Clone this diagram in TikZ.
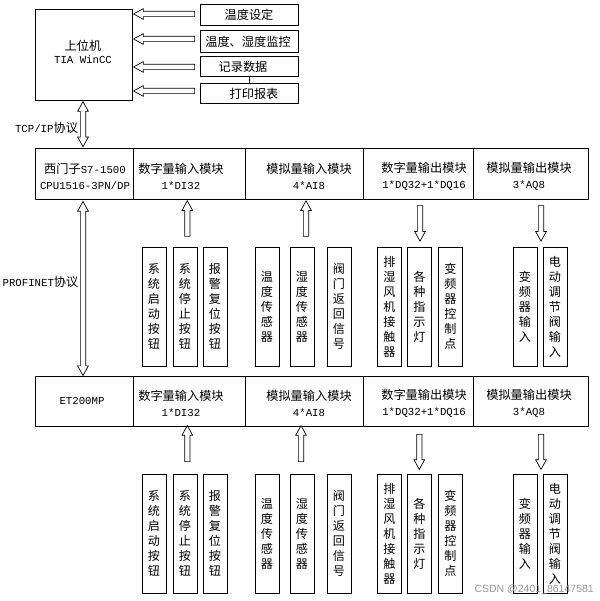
\documentclass[tikz,border=0pt]{standalone}
\usepackage{fontspec}
\setmainfont{Liberation Mono}
\newfontfamily\cjkfont[Scale=1.14]{Noto Sans CJK SC}
\newfontfamily\wmfont{Liberation Sans}
\newcommand{\zh}[1]{{\cjkfont #1}}
\usetikzlibrary{shapes.arrows}
\begin{document}
\begin{tikzpicture}[x=1pt,y=-1pt,
  font=\fontsize{10.7}{13}\selectfont,
  box/.style={draw, line width=0.8pt, inner sep=0pt},
  cell/.style={draw, line width=1pt, inner sep=0pt},
  txt/.style={inner sep=0pt, align=center},
  col/.style={draw, line width=0.8pt, minimum width=24pt, minimum height=119pt,
    inner sep=0pt, align=center, font=\cjkfont\fontsize{10.6}{15}\selectfont},
  harrow/.style={single arrow, draw, line width=0.7pt, inner sep=2.3pt,
    minimum width=10pt, single arrow head extend=2.7pt,
    single arrow tip angle=58, single arrow head indent=0pt},
  darrow/.style={double arrow, draw, line width=0.7pt, inner sep=2.3pt,
    minimum width=10pt, double arrow head extend=2.7pt,
    double arrow tip angle=58, double arrow head indent=0pt, shape border rotate=90},
  upa/.style={harrow, shape border rotate=90},
  downa/.style={harrow, shape border rotate=270},
  lefta/.style={harrow, shape border rotate=180}
]
\useasboundingbox (0,0) rectangle (599,601);

% upper computer
\node[box, minimum width=97pt, minimum height=91pt] (pc) at (83.5,54.5) {};
\node[txt, font=\fontsize{10.7}{13}\selectfont] (pct) at (83,51.5) {\zh{上位机}\\TIA WinCC};

% right boxes
\node[box, minimum width=98pt, minimum height=21pt] (b1) at (249,14.5) {};
\node[txt] (b1t) at (249,14.5) {\zh{温度设定}};
\node[box, minimum width=98pt, minimum height=22pt] (b2) at (249,41) {};
\node[txt] (b2t) at (248,41.5) {\zh{温度、湿度监控}};
\node[box, minimum width=98pt, minimum height=20pt] (b3) at (249,66) {};
\node[txt] (b3t) at (243,66.5) {\zh{记录数据}};
\node[box, minimum width=98pt, minimum height=20pt] (b4) at (249,93) {};
\node[txt] (b4t) at (254,94) {\zh{打印报表}};
\draw[line width=0.8pt] (b3.south) -- (b4.north);

% left arrows
\node[lefta, minimum height=61pt] (a1) at (166.5,14) {};
\node[lefta, minimum height=61pt] (a2) at (166.5,39) {};
\node[lefta, minimum height=61pt] (a3) at (166.5,67) {};
\node[lefta, minimum height=61pt] (a4) at (166.5,91) {};

% TCP/IP
\node[darrow, minimum height=45pt] (tcp) at (83,124.2) {};
\node[txt] (tcpt) at (46.5,127.7) {TCP/IP\zh{协议}};

% row 1
\node[cell, minimum width=98pt, minimum height=51pt] (r1c1) at (84,174.5) {};
\node[cell, minimum width=112pt, minimum height=51pt] (r1c2) at (189,174.5) {};
\node[cell, minimum width=118pt, minimum height=51pt] (r1c3) at (304,174.5) {};
\node[cell, minimum width=110pt, minimum height=51pt] (r1c4) at (418,174.5) {};
\node[cell, minimum width=115pt, minimum height=51pt] (r1c5) at (530.5,174.5) {};
\begin{scope}[every node/.style={txt, font=\fontsize{10.7}{16}\selectfont}]
\node (t11) at (85,176) {\zh{西门子}S7-1500\\CPU1516-3PN/DP};
\node (t12) at (181,176) {\zh{数字量输入模块}\\1*DI32};
\node (t13) at (309,176) {\zh{模拟量输入模块}\\4*AI8};
\node (t14) at (424,176) {\zh{数字量输出模块}\\1*DQ32+1*DQ16};
\node (t15) at (529,176) {\zh{模拟量输出模块}\\3*AQ8};
\end{scope}

% PROFINET
\node[darrow, minimum height=174pt] (pn) at (83,288.5) {};
\node[txt] (pnt) at (40.5,281.7) {PROFINET\zh{协议}};

% upper arrows
\node[upa, minimum height=35.5pt] (u1) at (187.3,221) {};
\node[upa, minimum height=35.5pt] (u2) at (306,221) {};
\node[downa, minimum height=35.5pt] (u3) at (420,221) {};
\node[downa, minimum height=35.5pt] (u4) at (541,221) {};

% upper columns
\node[col] (p1) at (154,306.5) {系\\统\\启\\动\\按\\钮};
\node[col] (p2) at (185,306.5) {系\\统\\停\\止\\按\\钮};
\node[col] (p3) at (215,306.5) {报\\警\\复\\位\\按\\钮};
\node[col] (p4) at (267,306.5) {温\\度\\传\\感\\器};
\node[col] (p5) at (302,306.5) {湿\\度\\传\\感\\器};
\node[col] (p6) at (339,306.5) {阀\\门\\返\\回\\信\\号};
\node[col] (p7) at (389.5,306.5) {排\\湿\\风\\机\\接\\触\\器};
\node[col] (p8) at (419.5,306.5) {各\\种\\指\\示\\灯};
\node[col] (p9) at (450.5,306.5) {变\\频\\器\\控\\制\\点};
\node[col] (p10) at (525,306.5) {变\\频\\器\\输\\入};
\node[col] (p11) at (555,306.5) {电\\动\\调\\节\\阀\\输\\入};

% row 2
\node[cell, minimum width=98pt, minimum height=50pt] (r2c1) at (84,401) {};
\node[cell, minimum width=112pt, minimum height=50pt] (r2c2) at (189,401) {};
\node[cell, minimum width=118pt, minimum height=50pt] (r2c3) at (304,401) {};
\node[cell, minimum width=110pt, minimum height=50pt] (r2c4) at (418,401) {};
\node[cell, minimum width=115pt, minimum height=50pt] (r2c5) at (530.5,401) {};
\begin{scope}[every node/.style={txt, font=\fontsize{10.7}{16}\selectfont}]
\node (t21) at (82,401) {ET200MP};
\node (t22) at (181,403) {\zh{数字量输入模块}\\1*DI32};
\node (t23) at (309,403) {\zh{模拟量输入模块}\\4*AI8};
\node (t24) at (424,403) {\zh{数字量输出模块}\\1*DQ32+1*DQ16};
\node (t25) at (529,403) {\zh{模拟量输出模块}\\3*AQ8};
\end{scope}

% lower arrows
\node[upa, minimum height=36pt] (l1) at (187.3,446) {};
\node[upa, minimum height=36pt] (l2) at (301,446) {};
\node[downa, minimum height=35pt] (l3) at (419.3,449.5) {};
\node[downa, minimum height=35pt] (l4) at (541,449.5) {};

% lower columns
\node[col] (q1) at (154,533.5) {系\\统\\启\\动\\按\\钮};
\node[col] (q2) at (185,533.5) {系\\统\\停\\止\\按\\钮};
\node[col] (q3) at (215,533.5) {报\\警\\复\\位\\按\\钮};
\node[col] (q4) at (267,533.5) {温\\度\\传\\感\\器};
\node[col] (q5) at (302,533.5) {湿\\度\\传\\感\\器};
\node[col] (q6) at (339,533.5) {阀\\门\\返\\回\\信\\号};
\node[col] (q7) at (389.5,533.5) {排\\湿\\风\\机\\接\\触\\器};
\node[col] (q8) at (419.5,533.5) {各\\种\\指\\示\\灯};
\node[col] (q9) at (450.5,533.5) {变\\频\\器\\控\\制\\点};
\node[col] (q10) at (525,533.5) {变\\频\\器\\输\\入};
\node[col] (q11) at (555,533.5) {电\\动\\调\\节\\阀\\输\\入};

% watermark
\node[inner sep=0pt, anchor=east, text=black!40, font=\wmfont\fontsize{10.5}{12}\selectfont] (wm) at (594,590) {CSDN @2401\_86147581};
\end{tikzpicture}
\end{document}
